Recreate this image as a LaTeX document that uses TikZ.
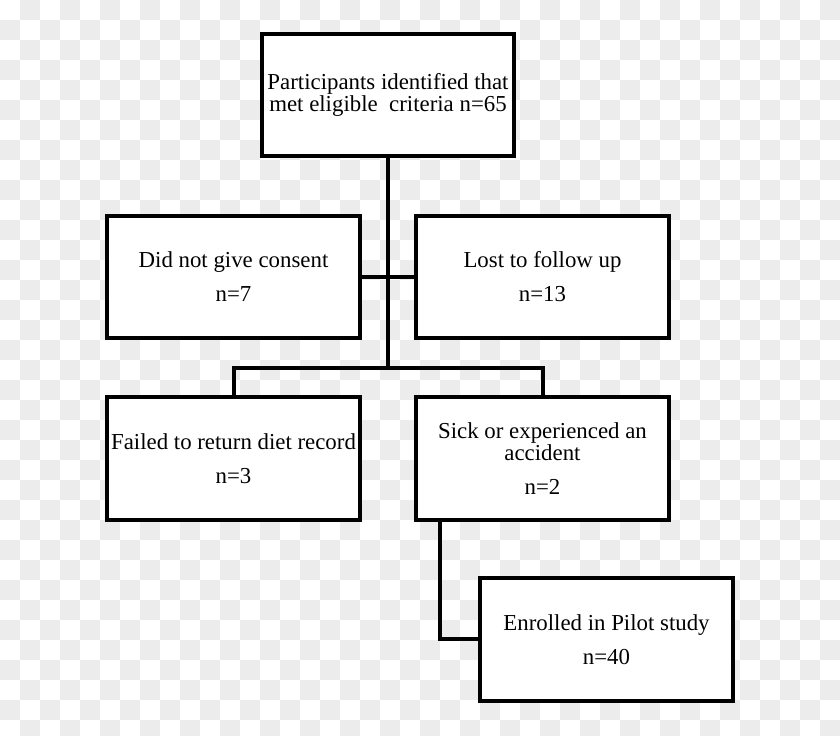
\documentclass[tikz,border=0pt]{standalone}
\usepackage{fontspec}
\setmainfont{Liberation Serif}
\usepackage{tikz}
\usetikzlibrary{positioning}

\definecolor{checkgray}{HTML}{ECECEC}

\begin{document}
\begin{tikzpicture}[
    x=0.02cm, y=-0.02cm,
    box/.style={draw, line width=0.08cm, fill=white, align=center,
                minimum width=5.06cm, minimum height=2.46cm, inner sep=0pt,
                font=\fontsize{13}{13}\selectfont},
    link/.style={draw, line width=0.08cm}
  ]
  % checkered background
  \fill[white] (0,0) rectangle (840,736);
  \begin{scope}
    \clip (0,0) rectangle (840,736);
    \foreach \i in {0,...,41}
      \foreach \j in {0,...,36} {
        \pgfmathparse{int(mod(\i+\j,2))}
        \ifnum\pgfmathresult=1
          \fill[checkgray] (20*\i,20*\j) rectangle ++(20,20);
        \fi
      }
  \end{scope}
  \useasboundingbox (0,0) rectangle (840,736);

  \node[box] (eligible) at (388,95) {Participants identified that\\met eligible\ \ criteria n=65};
  \node[box] (consent) at (233.5,277) {Did not give consent\\[6.3pt]n=7};
  \node[box] (lost) at (542.5,277) {Lost to follow up\\[6.3pt]n=13};
  \node[box] (failed) at (233.5,458.5) {Failed to return diet record\\[6.3pt]n=3};
  \node[box] (sick) at (542.5,458.5) {Sick or experienced an\\accident\\[6.3pt]n=2};
  \node[box] (enrolled) at (606.5,639.5) {Enrolled in Pilot study\\[6.3pt]n=40};

  \coordinate (split) at (388,368);
  \coordinate (bend) at (440,640);

  \draw[link] (eligible.south) -- (split);
  \draw[link] (consent.east) -- (lost.west);
  \draw[link] (failed.north) |- (split) -| (sick.north);
  \draw[link] (sick.south -| bend) |- (enrolled.west);
\end{tikzpicture}
\end{document}
